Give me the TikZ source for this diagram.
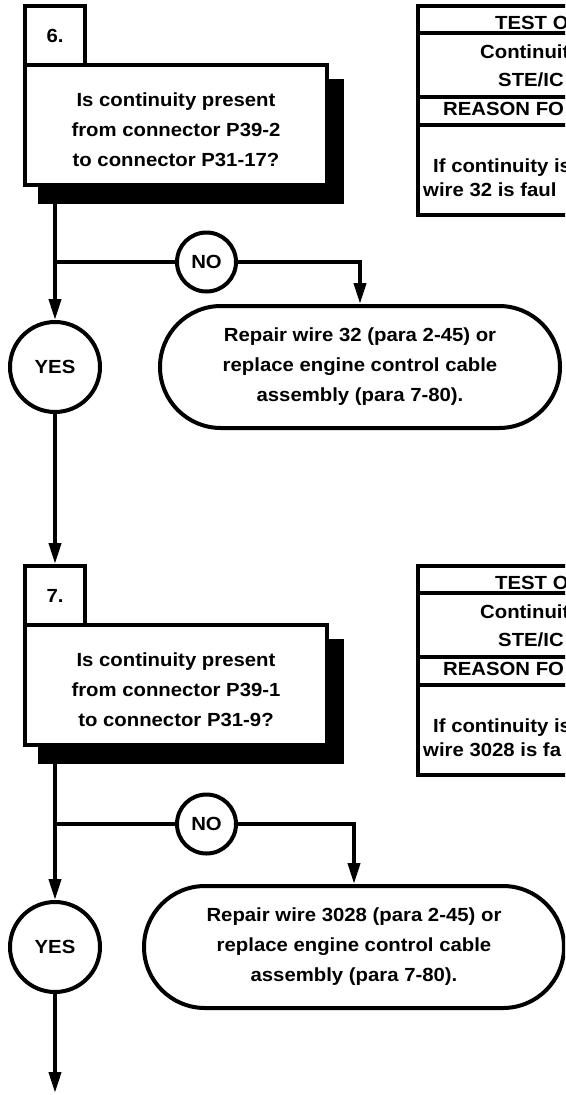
\documentclass[tikz,border=0pt]{standalone}
\usepackage{fontspec}
\setmainfont{Liberation Sans}[FakeStretch=1.07]
\usetikzlibrary{arrows.meta}
\begin{document}
\begin{tikzpicture}[x=1pt,y=-1pt,
  lw/.style={line width=4pt},
  arr/.style={line width=4pt,-{Triangle[length=21pt,width=12pt]}},
  bf/.style={font=\bfseries\fontsize{19}{30}\selectfont},
  tabbox/.style={draw,lw,bf,fill=white,minimum width=60pt,minimum height=59pt,inner sep=0pt},
  qbox/.style={draw,lw,fill=white,minimum width=302pt,minimum height=120pt,inner sep=0pt},
  shadowbox/.style={fill=black,minimum width=306pt,minimum height=125pt,inner sep=0pt},
  qtext/.style={bf,align=center,inner sep=0pt},
  tt/.style={bf,inner sep=0pt,anchor=base west},
  nocirc/.style={draw,lw,circle,bf,minimum size=59pt,inner sep=0pt},
  yescirc/.style={draw,lw,circle,bf,minimum size=90pt,inner sep=0pt},
  term/.style={draw,lw,bf,align=center,rounded corners=61pt,minimum height=122pt,inner sep=0pt},
]
\useasboundingbox (0,0) rectangle (565,1095);
\clip (0,0) rectangle (565,1095);

% ---------- block 6 ----------
\node[shadowbox] (sh6) at (191,141.5) {};
\node[qbox] (q6) at (176,125) {};
\node[tabbox] (tab6) at (55,35.5) {6.};
\node[qtext] (q6t) at (176,129.5) {Is continuity present\\from connector P39-2\\to connector P31-17?};

\draw[lw] (600,6) -- (418,6) -- (418,215) -- (600,215);
\draw[lw] (418,33) -- (600,33);
\draw[lw] (418,97) -- (600,97);
\draw[lw] (418,125) -- (600,125);
\node[tt] (t6a) at (495,29) {TEST O};
\node[tt] (t6b) at (480,58) {Continuit};
\node[tt] (t6c) at (498,86) {STE/IC};
\node[tt] (t6d) at (443,115) {REASON FO};
\node[tt] (t6e) at (433,172) {If continuity is};
\node[tt] (t6f) at (423,196) {wire 32 is faul};

\node[nocirc] (no6) at (206.5,262) {NO};
\node[yescirc] (yes6) at (55,367) {YES};
\node[term,minimum width=400pt] (r6) at (360,367) {Repair wire 32 (para 2-45) or\\replace engine control cable\\assembly (para 7-80).};

\draw[arr] (sh6.south -| yes6.north) -- (yes6.north);
\draw[lw] (yes6.north |- no6.west) -- (no6.west);
\draw[arr] (no6.east) -| (r6.north);

% ---------- block 7 ----------
\node[shadowbox] (sh7) at (191,701.5) {};
\node[qbox] (q7) at (176,685) {};
\node[tabbox] (tab7) at (55,595.5) {7.};
\node[qtext] (q7t) at (176,689.5) {Is continuity present\\from connector P39-1\\to connector P31-9?};

\draw[arr] (yes6.south) -- (tab7.north);

\draw[lw] (600,566) -- (418,566) -- (418,775) -- (600,775);
\draw[lw] (418,593) -- (600,593);
\draw[lw] (418,657) -- (600,657);
\draw[lw] (418,685) -- (600,685);
\node[tt] (t7a) at (495,589) {TEST O};
\node[tt] (t7b) at (480,618) {Continuit};
\node[tt] (t7c) at (498,646) {STE/IC};
\node[tt] (t7d) at (443,675) {REASON FO};
\node[tt] (t7e) at (433,732) {If continuity is};
\node[tt] (t7f) at (423,756) {wire 3028 is fa};

\node[nocirc] (no7) at (206.5,824) {NO};
\node[yescirc] (yes7) at (55,947) {YES};
\node[term,minimum width=420pt] (r7) at (354,947) {Repair wire 3028 (para 2-45) or\\replace engine control cable\\assembly (para 7-80).};

\draw[arr] (sh7.south -| yes7.north) -- (yes7.north);
\draw[lw] (yes7.north |- no7.west) -- (no7.west);
\draw[arr] (no7.east) -| (r7.north);

\coordinate (end7) at (55,1093);
\draw[arr] (yes7.south) -- (end7);
\end{tikzpicture}
\end{document}
